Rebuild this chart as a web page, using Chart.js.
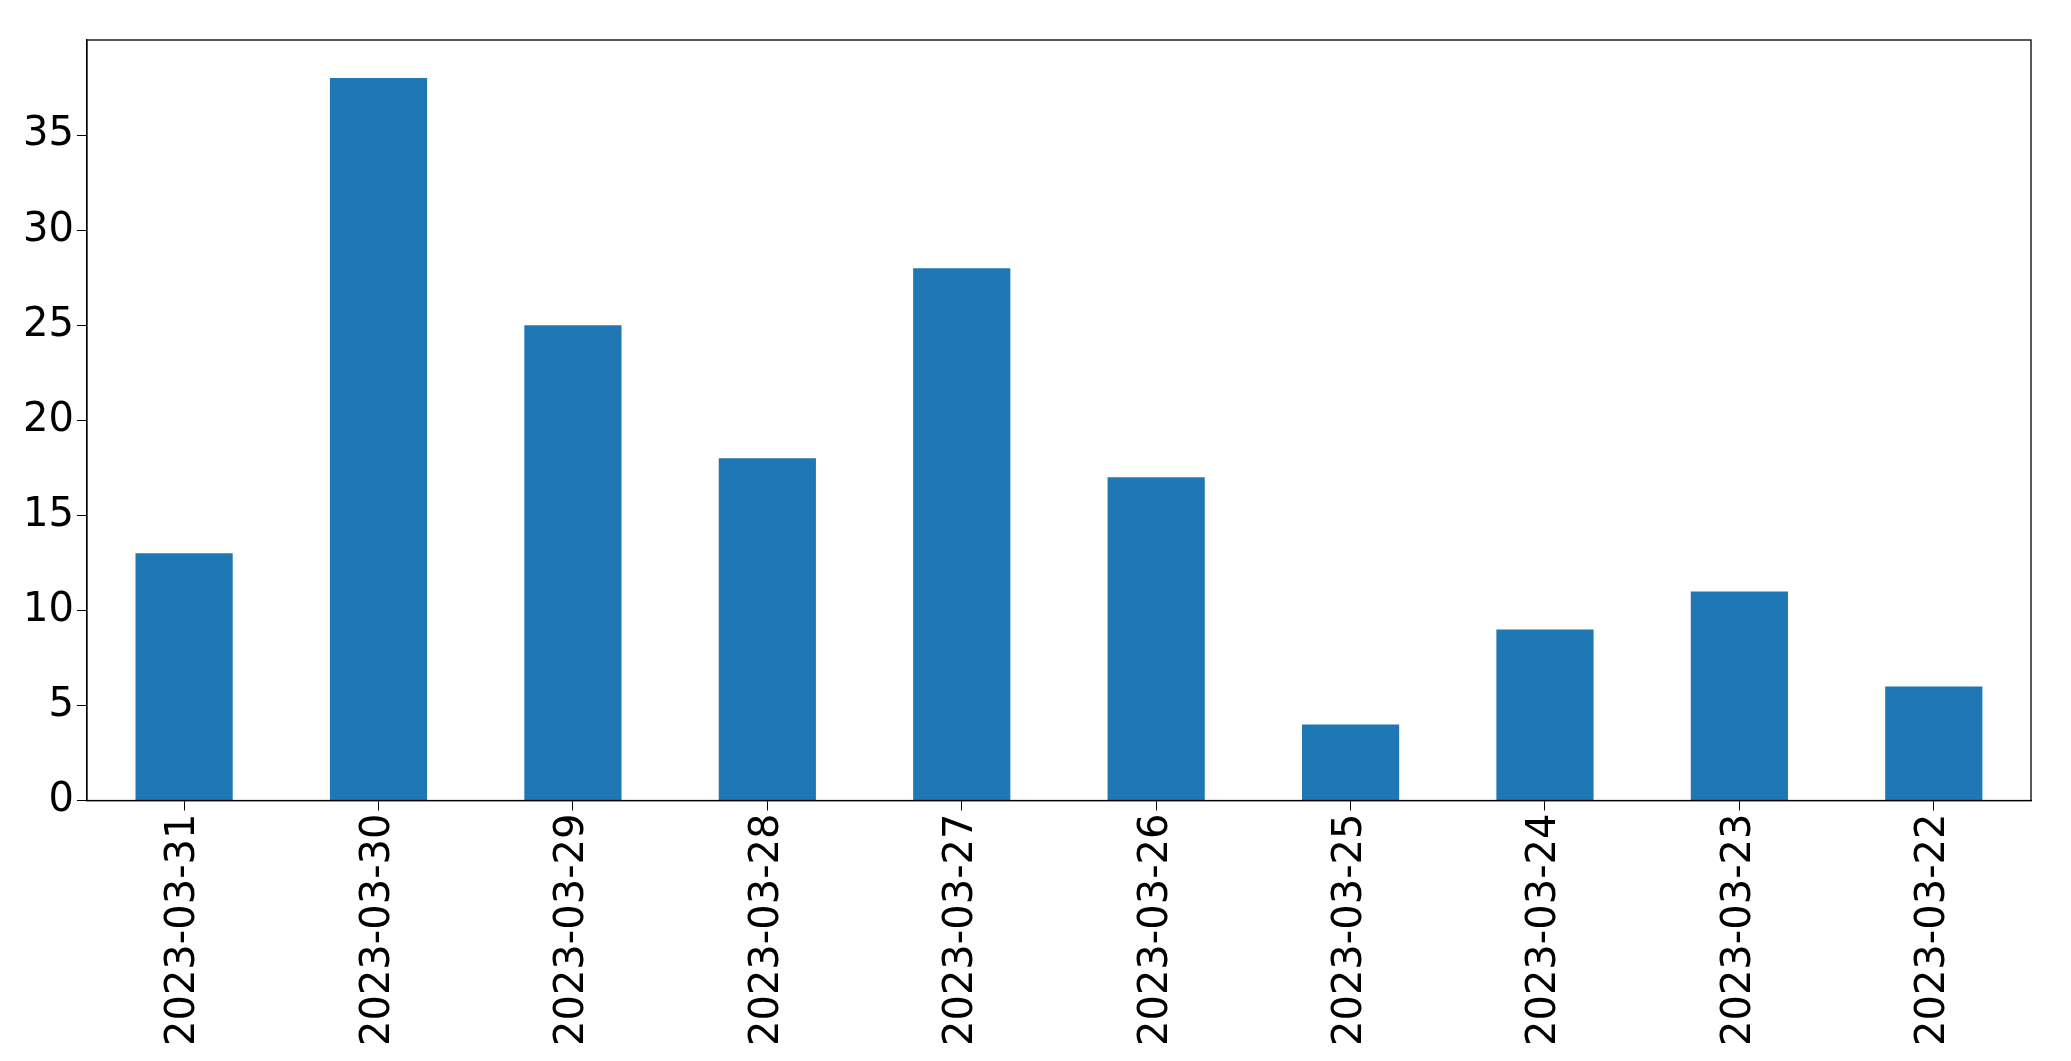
<!DOCTYPE html>
<html>
<head>
<meta charset="utf-8">
<script src="https://cdn.jsdelivr.net/npm/chart.js@4/dist/chart.umd.min.js"></script>
<style>
  html, body { margin: 0; padding: 0; background: #fff; }
  #wrap { width: 2071px; height: 1061px; }
</style>
</head>
<body>
<div id="wrap"><canvas id="chart"></canvas></div>
<script>
const categories = ['2023-03-31', '2023-03-30', '2023-03-29', '2023-03-28', '2023-03-27',
  '2023-03-26', '2023-03-25', '2023-03-24', '2023-03-23', '2023-03-22'];
const counts = [13, 38, 25, 18, 28, 17, 4, 9, 11, 6];

const tickFont = { family: 'DejaVu Sans', size: 40 };

new Chart(document.getElementById('chart'), {
  type: 'bar',
  data: {
    labels: categories,
    datasets: [{
      data: counts,
      backgroundColor: '#1f77b4',
      categoryPercentage: 1,
      barPercentage: 0.5,
    }],
  },
  options: {
    responsive: true,
    maintainAspectRatio: false,
    animation: false,
    layout: { padding: { top: 40, right: 40, left: 20, bottom: 12 } },
    plugins: { legend: { display: false }, tooltip: { enabled: false } },
    scales: {
      x: {
        grid: { drawOnChartArea: false, offset: false, color: '#000', tickLength: 10 },
        border: { color: '#000', width: 1.3 },
        ticks: { color: '#000', font: tickFont, maxRotation: 90, minRotation: 90 },
      },
      y: {
        min: 0,
        max: 40,
        grid: {
          drawOnChartArea: false, tickLength: 10,
          color: (c) => (c.tick && c.tick.value === 40 ? 'rgba(0,0,0,0)' : '#000'),
        },
        border: { color: '#000', width: 1.3 },
        ticks: {
          color: '#000', font: tickFont, stepSize: 5,
          callback: (v) => (v === 40 ? '' : v),
        },
      },
    },
  },
  plugins: [{
    id: 'frame',
    afterDraw(chart) {
      const { ctx, chartArea: a } = chart;
      ctx.save();
      ctx.strokeStyle = '#000';
      ctx.lineWidth = 1.3;
      ctx.strokeRect(a.left, a.top, a.right - a.left, a.bottom - a.top);
      ctx.restore();
    },
  }],
});
</script>
</body>
</html>
